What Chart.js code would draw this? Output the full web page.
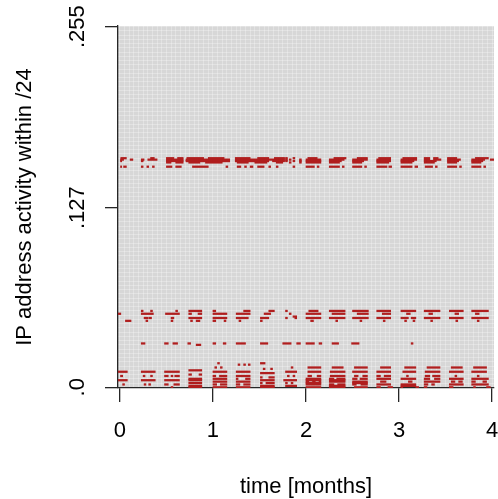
<!DOCTYPE html>
<html>
<head>
<meta charset="utf-8">
<script src="https://cdn.jsdelivr.net/npm/chart.js@4.4.1/dist/chart.umd.min.js"></script>
<style>
  html, body { margin: 0; padding: 0; background: #ffffff; }
  #wrap { width: 498px; height: 499px; position: relative; }
</style>
</head>
<body>
<div id="wrap"><canvas id="c"></canvas></div>
<script>
// ---- tick labels ----
const xTicks = [0, 1, 2, 3, 4];
const yTicks = [0, 127, 255];
const yTickLabels = ['.0', '.127', '.255'];

// ---- activity segments per address row: [start month, end month] ----
// top band
const r162 = [[0.01,0.07],[0.33,0.37],[0.50,0.58],[0.62,0.68],[0.72,0.90],[0.95,1.12],[1.24,1.40],[1.48,1.60],[1.66,1.77],[1.78,1.80],[1.86,1.88],[2.02,2.12],[2.30,2.43],[2.55,2.66],[2.78,2.91],[3.04,3.19],[3.27,3.33],[3.37,3.42],[3.52,3.62],[3.82,3.96]];
const r161 = [[0.00,0.04],[0.11,0.14],[0.23,0.26],[0.30,0.40],[0.50,0.68],[0.71,1.18],[1.24,1.77],[1.78,1.80],[1.82,1.84],[1.93,1.95],[2.00,2.16],[2.25,2.41],[2.50,2.66],[2.76,2.91],[3.02,3.19],[3.27,3.33],[3.37,3.45],[3.52,3.66],[3.78,3.92],[3.98,4.02]];
const r160 = [[0.00,0.02],[0.23,0.25],[0.50,0.68],[0.71,1.18],[1.24,1.60],[1.64,1.77],[1.78,1.80],[1.86,1.88],[1.93,1.95],[2.00,2.16],[2.25,2.38],[2.50,2.62],[2.76,2.91],[3.02,3.16],[3.27,3.40],[3.52,3.64],[3.78,3.90]];
const r159 = [[0.50,0.55],[0.60,0.68],[0.74,0.86],[0.92,1.10],[1.26,1.38],[1.45,1.58],[1.68,1.75],[1.82,1.84],[1.93,1.95],[2.00,2.16],[2.25,2.36],[2.50,2.60],[2.76,2.89],[3.02,3.14],[3.27,3.38],[3.52,3.62],[3.78,3.88]];
const r156 = [[0.00,0.02],[0.04,0.07],[0.23,0.25],[0.29,0.31],[0.35,0.37],[0.50,0.56],[0.60,0.66],[0.78,0.95],[1.14,1.16],[1.26,1.30],[1.34,1.36],[1.40,1.43],[1.48,1.55],[1.60,1.62],[1.68,1.70],[1.86,1.88],[2.00,2.09],[2.12,2.14],[2.25,2.36],[2.39,2.41],[2.50,2.60],[2.63,2.65],[2.76,2.87],[2.89,2.92],[3.02,3.14],[3.17,3.20],[3.28,3.36],[3.39,3.41],[3.52,3.62],[3.65,3.67],[3.78,3.88],[3.91,3.93]];
// middle band
const r54 = [[0.23,0.25],[0.33,0.35],[0.60,0.62],[0.74,0.88],[1.00,1.03],[1.33,1.40],[1.60,1.66],[1.78,1.80],[2.03,2.13],[2.25,2.42],[2.50,2.67],[2.76,2.91],[3.02,3.18],[3.27,3.44],[3.54,3.69],[3.78,3.96]];
const r52 = [[-0.02,0.01],[0.23,0.36],[0.49,0.64],[0.74,0.77],[0.84,0.88],[1.00,1.15],[1.25,1.40],[1.55,1.62],[1.82,1.84],[2.00,2.16],[2.28,2.42],[2.55,2.67],[2.82,2.91],[3.08,3.12],[3.32,3.36],[3.60,3.64],[3.82,3.86]];
const r50 = [[1.86,1.90]];
const r49 = [[0.26,0.30],[0.31,0.34],[0.55,0.58],[0.74,0.88],[1.00,1.15],[1.25,1.38],[1.51,1.60],[1.78,1.80],[1.88,1.90],[2.00,2.16],[2.25,2.42],[2.50,2.67],[2.76,2.91],[3.02,3.10],[3.13,3.18],[3.27,3.44],[3.54,3.69],[3.78,3.96]];
const r47 = [[0.06,0.12],[0.28,0.30],[0.55,0.57],[0.76,0.78],[0.82,0.86],[1.00,1.03],[1.12,1.14],[1.28,1.30],[1.51,1.53],[2.05,2.08],[2.32,2.34],[2.58,2.60],[2.83,2.85],[3.06,3.08],[3.15,3.17],[3.34,3.36],[3.61,3.63],[3.84,3.86]];
// single line
const r31 = [[0.23,0.27],[0.48,0.52],[0.57,0.62],[0.73,0.76],[1.00,1.03],[1.11,1.14],[1.25,1.35],[1.51,1.59],[1.75,1.84],[1.90,1.94],[2.00,2.09],[2.14,2.17],[2.28,2.35],[2.49,2.57],[3.13,3.15]];
const r30 = [[0.82,0.87]];
// bottom band
const r17 = [[1.05,1.07],[1.51,1.56]];
const r16 = [[1.27,1.29],[1.33,1.35],[1.38,1.40]];
const r14 = [[1.02,1.04],[1.08,1.10],[1.84,1.86],[2.02,2.16],[2.28,2.40],[2.52,2.66],[2.80,2.91],[3.06,3.18],[3.30,3.44],[3.56,3.68],[3.80,3.94]];
const r13 = [[1.54,1.56],[1.62,1.64]];
const r12 = [[0.74,0.88]];
const r11 = [[-0.02,0.08],[0.23,0.38],[0.48,0.64],[1.00,1.15],[1.25,1.40],[1.78,1.90],[2.02,2.16],[2.26,2.42],[2.50,2.66],[2.76,2.91],[3.04,3.18],[3.28,3.44],[3.54,3.69],[3.78,3.94]];
const r10 = [[1.51,1.66]];
const r9 = [[0.74,0.77],[0.85,0.88]];
const r8 = [[0.00,0.03],[0.25,0.27],[0.33,0.35],[0.48,0.52],[0.55,0.57],[0.59,0.64],[1.00,1.03],[1.07,1.15],[1.25,1.40],[1.80,1.82],[1.86,1.88],[2.02,2.06],[2.12,2.16],[2.26,2.42],[2.52,2.56],[2.61,2.66],[2.76,2.80],[2.84,2.91],[3.08,3.10],[3.28,3.33],[3.36,3.44],[3.60,3.62],[3.84,3.86]];
const r7 = [[1.51,1.53],[1.60,1.66]];
const r6 = [[0.74,0.88],[1.00,1.15],[1.25,1.27],[1.35,1.40],[2.00,2.16],[2.25,2.30],[2.33,2.42],[2.50,2.55],[2.58,2.66],[2.76,2.91],[3.02,3.18],[3.27,3.33],[3.38,3.44],[3.54,3.69],[3.78,3.96]];
const r5 = [[-0.02,0.08],[0.23,0.38],[0.48,0.64],[0.74,0.88],[1.51,1.66],[1.76,1.90],[2.00,2.16],[2.25,2.42]];
const r4 = [[1.00,1.15],[1.25,1.40],[2.00,2.03],[2.07,2.10],[2.14,2.16],[2.25,2.42],[2.50,2.66],[2.80,2.86],[3.10,3.14],[3.27,3.44],[3.56,3.60],[3.64,3.68],[3.78,3.82],[3.90,3.94]];
const r3 = [[0.74,0.88],[1.51,1.53],[1.57,1.66],[1.78,1.80],[1.84,1.86],[2.00,2.16],[2.50,2.66]];
const r2 = [[0.03,0.05],[0.26,0.28],[0.31,0.33],[0.48,0.52],[0.58,0.64],[1.00,1.04],[1.08,1.15],[1.25,1.29],[1.33,1.40],[2.00,2.16],[2.25,2.30],[2.34,2.42],[2.50,2.54],[2.59,2.66],[2.76,2.91],[3.02,3.18],[3.27,3.31],[3.35,3.38],[3.54,3.69],[3.78,3.96]];
const r1 = [[0.74,0.88],[1.51,1.66],[1.78,1.90],[2.25,2.42],[3.02,3.18]];
const r0 = [[0.55,0.57],[0.74,0.88],[1.00,1.15],[1.25,1.40],[1.51,1.66],[2.00,2.16],[2.25,2.42],[2.52,2.66],[2.76,2.80],[2.88,2.93],[3.02,3.04],[3.18,3.21],[3.27,3.30],[3.54,3.58],[3.80,3.82],[3.94,3.98]];

const rowList = [
  [162, r162], [161, r161], [160, r160], [159, r159], [156, r156],
  [54, r54], [52, r52], [50, r50], [49, r49], [47, r47],
  [31, r31], [30, r30],
  [17, r17], [16, r16], [14, r14], [13, r13], [12, r12], [11, r11], [10, r10],
  [9, r9], [8, r8], [7, r7], [6, r6], [5, r5], [4, r4], [3, r3], [2, r2], [1, r1], [0, r0]
];

const segments = [];
rowList.forEach(([addr, segs]) => segs.forEach(([a, b]) => segments.push({ y: addr, x: [a, b] })));

const FONT = 'Liberation Sans, Arial, Helvetica, sans-serif';
const AXIS = '#262626';

const plotBg = {
  id: 'plotBg',
  beforeDraw(chart) {
    const { ctx, chartArea: a } = chart;
    ctx.save();
    ctx.fillStyle = '#d7d7d7';
    ctx.fillRect(a.left, a.top, a.right - a.left, a.bottom - a.top);
    ctx.restore();
  }
};

function zeroPad(s) { s.paddingLeft = 0; s.paddingRight = 0; s.paddingTop = 0; s.paddingBottom = 0; }

new Chart(document.getElementById('c'), {
  type: 'bar',
  data: {
    datasets: [{
      data: segments,
      backgroundColor: '#b01e1e',
      borderWidth: 0,
      barThickness: 1.6,
      grouped: false
    }]
  },
  plugins: [plotBg],
  options: {
    indexAxis: 'y',
    responsive: true,
    maintainAspectRatio: false,
    animation: false,
    layout: { padding: { top: 26, right: 4, left: 0, bottom: 0 } },
    plugins: { legend: { display: false }, tooltip: { enabled: false } },
    scales: {
      x: {
        type: 'linear',
        position: 'bottom',
        min: -0.02,
        max: 4.02,
        offset: false,
        afterBuildTicks: s => { s.ticks = xTicks.map(v => ({ value: v })); },
        ticks: { color: '#000', font: { family: FONT, size: 22, lineHeight: 1 }, padding: 18, maxRotation: 0, includeBounds: false },
        grid: { offset: false, drawOnChartArea: false, drawTicks: true, tickLength: 14, color: AXIS, lineWidth: 1.3 },
        border: { display: true, color: AXIS, width: 1.3 },
        title: { display: true, text: 'time [months]', color: '#000', font: { family: FONT, size: 22, lineHeight: 1 }, padding: { top: 0, bottom: 1 } },
        afterFit: s => { s.height = 111; zeroPad(s); }
      },
      y: {
        type: 'linear',
        position: 'left',
        min: -0.5,
        max: 255.5,
        offset: false,
        afterBuildTicks: s => { s.ticks = yTicks.map(v => ({ value: v })); },
        ticks: {
          color: '#000', font: { family: FONT, size: 22, lineHeight: 1 }, padding: 6,
          minRotation: 90, maxRotation: 90, crossAlign: 'center',
          callback: (v) => yTickLabels[yTicks.indexOf(v)]
        },
        grid: { offset: false, drawOnChartArea: false, drawTicks: true, tickLength: 13, color: AXIS, lineWidth: 1.3 },
        border: { display: true, color: AXIS, width: 1.3 },
        title: { display: true, text: 'IP address activity within /24', color: '#000', font: { family: FONT, size: 22, lineHeight: 1 }, padding: { top: 14, bottom: 0 } },
        afterFit: s => { s.width = 118; zeroPad(s); }
      },
      xg: {
        type: 'linear',
        position: 'top',
        min: -0.02,
        max: 4.02,
        offset: false,
        ticks: { display: false, stepSize: 0.05, includeBounds: false },
        grid: { offset: false, drawTicks: false, color: 'rgba(255,255,255,0.28)', lineWidth: 1 },
        border: { display: false },
        afterFit: s => { s.height = 0; zeroPad(s); }
      },
      yg: {
        type: 'linear',
        position: 'right',
        min: -0.5,
        max: 255.5,
        offset: false,
        ticks: { display: false, stepSize: 3, includeBounds: false },
        grid: { offset: false, drawTicks: false, color: 'rgba(255,255,255,0.28)', lineWidth: 1 },
        border: { display: false },
        afterFit: s => { s.width = 0; zeroPad(s); }
      }
    }
  }
});
</script>
</body>
</html>
